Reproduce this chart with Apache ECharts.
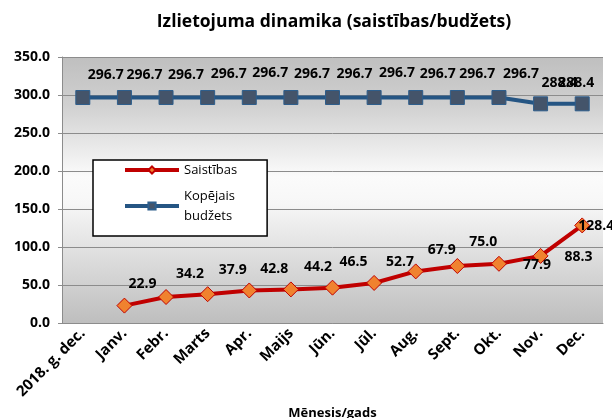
<html>
<head>
<meta charset="UTF-8">
<title>Izlietojuma dinamika</title>
<script src="https://cdn.jsdelivr.net/npm/echarts@6/dist/echarts.min.js"></script>
</head>
<body style="margin:0;background:#fff">
	<div id="main" style="width: 612px; height: 418px;"></div>
<script type="text/javascript">
	// dati
	var months = [ '2018. g. dec.', 'Janv.', 'Febr.', 'Marts', 'Apr.', 'Maijs',
			'Jūn.', 'Jūl.', 'Aug.', 'Sept.', 'Okt.', 'Nov.', 'Dec.' ];
	var saistibas = [ null, 22.9, 34.2, 37.9, 42.8, 44.2, 46.5, 52.7, 67.9,
			75.0, 77.9, 88.3, 128.4 ];
	var budzets = [ 296.7, 296.7, 296.7, 296.7, 296.7, 296.7, 296.7, 296.7,
			296.7, 296.7, 296.7, 288.4, 288.4 ];
	var yTicks = [ 0, 50, 100, 150, 200, 250, 300, 350 ];

	// etiķešu nobīdes (kā oriģinālajā Excel diagrammā)
	var saistOffsets = [ null, [ 18, -22 ], [ 24, -23 ], [ 25, -24 ],
			[ 25, -21 ], [ 27, -22 ], [ 21, -26 ], [ 26, -21 ], [ 26, -21 ],
			[ 26, -24 ], [ 38, 1 ], [ 38, 1 ], [ 14, 1 ] ];
	var budzOffsets = [ [ 23, -22 ], [ 20, -22 ], [ 20, -22 ], [ 21, -23 ],
			[ 21, -24 ], [ 21, -23 ], [ 22, -23 ], [ 23, -24 ], [ 22, -23 ],
			[ 20, -23 ], [ 22, -23 ], [ 19, -21 ], [ -6, -21 ] ];

	function withLabels(values, offsets) {
		var out = [];
		for (var i = 0; i < values.length; i++) {
			if (values[i] == null) {
				out.push(null);
			} else {
				out.push({
					value : values[i],
					label : {
						offset : offsets[i]
					}
				});
			}
		}
		return out;
	}

	var font = '"Open Sans", "DejaVu Sans", sans-serif';
	var labelStyle = {
		show : true,
		position : 'inside',
		fontFamily : font,
		fontWeight : 'bold',
		fontSize : 14,
		color : '#000',
		formatter : function(p) {
			return p.value.toFixed(1);
		}
	};

	var myChart = echarts.init(document.getElementById('main'));
	var option = {
		animation : false,
		textStyle : {
			fontFamily : font
		},
		title : {
			text : 'Izlietojuma dinamika (saistības/budžets)',
			left : 329,
			textAlign : 'center',
			top : 8,
			textStyle : {
				fontFamily : font,
				fontWeight : 'bold',
				fontSize : 17.5,
				color : '#000'
			}
		},
		legend : {
			orient : 'vertical',
			left : 93,
			top : 160,
			padding : [ 0, 30, 0, 30 ],
			itemGap : -4,
			itemWidth : 54,
			itemHeight : 9,
			backgroundColor : '#fff',
			borderColor : '#000',
			borderWidth : 1.5,
			lineStyle : {
				width : 4
			},
			textStyle : {
				fontFamily : font,
				fontSize : 13,
				lineHeight : 20,
				color : '#000'
			},
			data : [ {
				name : 'Saistības'
			}, {
				name : 'Kopējais\nbudžets',
				textStyle : {
					padding : [ 20, 0, 0, 0 ]
				}
			} ]
		},
		grid : {
			left : 62,
			right : 9,
			top : 57,
			bottom : 95,
			outerBoundsMode : 'none',
			containLabel : false,
			show : true,
			borderWidth : 0,
			backgroundColor : new echarts.graphic.LinearGradient(0, 0, 0, 1, [ {
				offset : 0,
				color : '#bfbfbf'
			}, {
				offset : 0.18,
				color : '#d0d0d0'
			}, {
				offset : 0.45,
				color : '#fbfbfb'
			}, {
				offset : 0.55,
				color : '#f7f7f7'
			}, {
				offset : 1,
				color : '#bebebe'
			} ])
		},
		xAxis : {
			type : 'category',
			data : months,
			boundaryGap : true,
			name : 'Mēnesis/gads',
			nameLocation : 'middle',
			nameGap : 84,
			nameTextStyle : {
				fontFamily : font,
				fontWeight : 'bold',
				fontSize : 13,
				color : '#000'
			},
			axisLine : {
				lineStyle : {
					color : '#8c8c8c',
					width : 1
				}
			},
			axisTick : {
				show : false
			},
			axisLabel : {
				interval : 0,
				rotate : 45,
				margin : 8,
				fontFamily : font,
				fontWeight : 'bold',
				fontSize : 15,
				color : '#000'
			}
		},
		yAxis : {
			type : 'value',
			min : yTicks[0],
			max : yTicks[yTicks.length - 1],
			interval : yTicks[1] - yTicks[0],
			axisLine : {
				show : true,
				lineStyle : {
					color : '#8c8c8c'
				}
			},
			axisTick : {
				show : true,
				length : 4,
				lineStyle : {
					color : '#8c8c8c'
				}
			},
			splitLine : {
				lineStyle : {
					color : '#8c8c8c',
					width : 1
				}
			},
			axisLabel : {
				margin : 12,
				fontFamily : font,
				fontWeight : 'bold',
				fontSize : 14,
				color : '#000',
				formatter : function(v) {
					return v.toFixed(1);
				}
			}
		},
		series : [ {
			name : 'Saistības',
			type : 'line',
			data : withLabels(saistibas, saistOffsets),
			symbol : 'diamond',
			symbolSize : 15,
			lineStyle : {
				color : '#c00000',
				width : 4
			},
			itemStyle : {
				color : '#f0822f',
				borderColor : '#c00000',
				borderWidth : 1
			},
			label : labelStyle,
			z : 3
		}, {
			name : 'Kopējais\nbudžets',
			type : 'line',
			data : withLabels(budzets, budzOffsets),
			symbol : 'rect',
			symbolSize : 14,
			lineStyle : {
				color : '#255583',
				width : 4
			},
			itemStyle : {
				color : '#44546a',
				borderColor : '#2e5e8c',
				borderWidth : 1
			},
			label : labelStyle,
			z : 2
		} ]
	};
	myChart.setOption(option);
</script>
</body>
</html>
